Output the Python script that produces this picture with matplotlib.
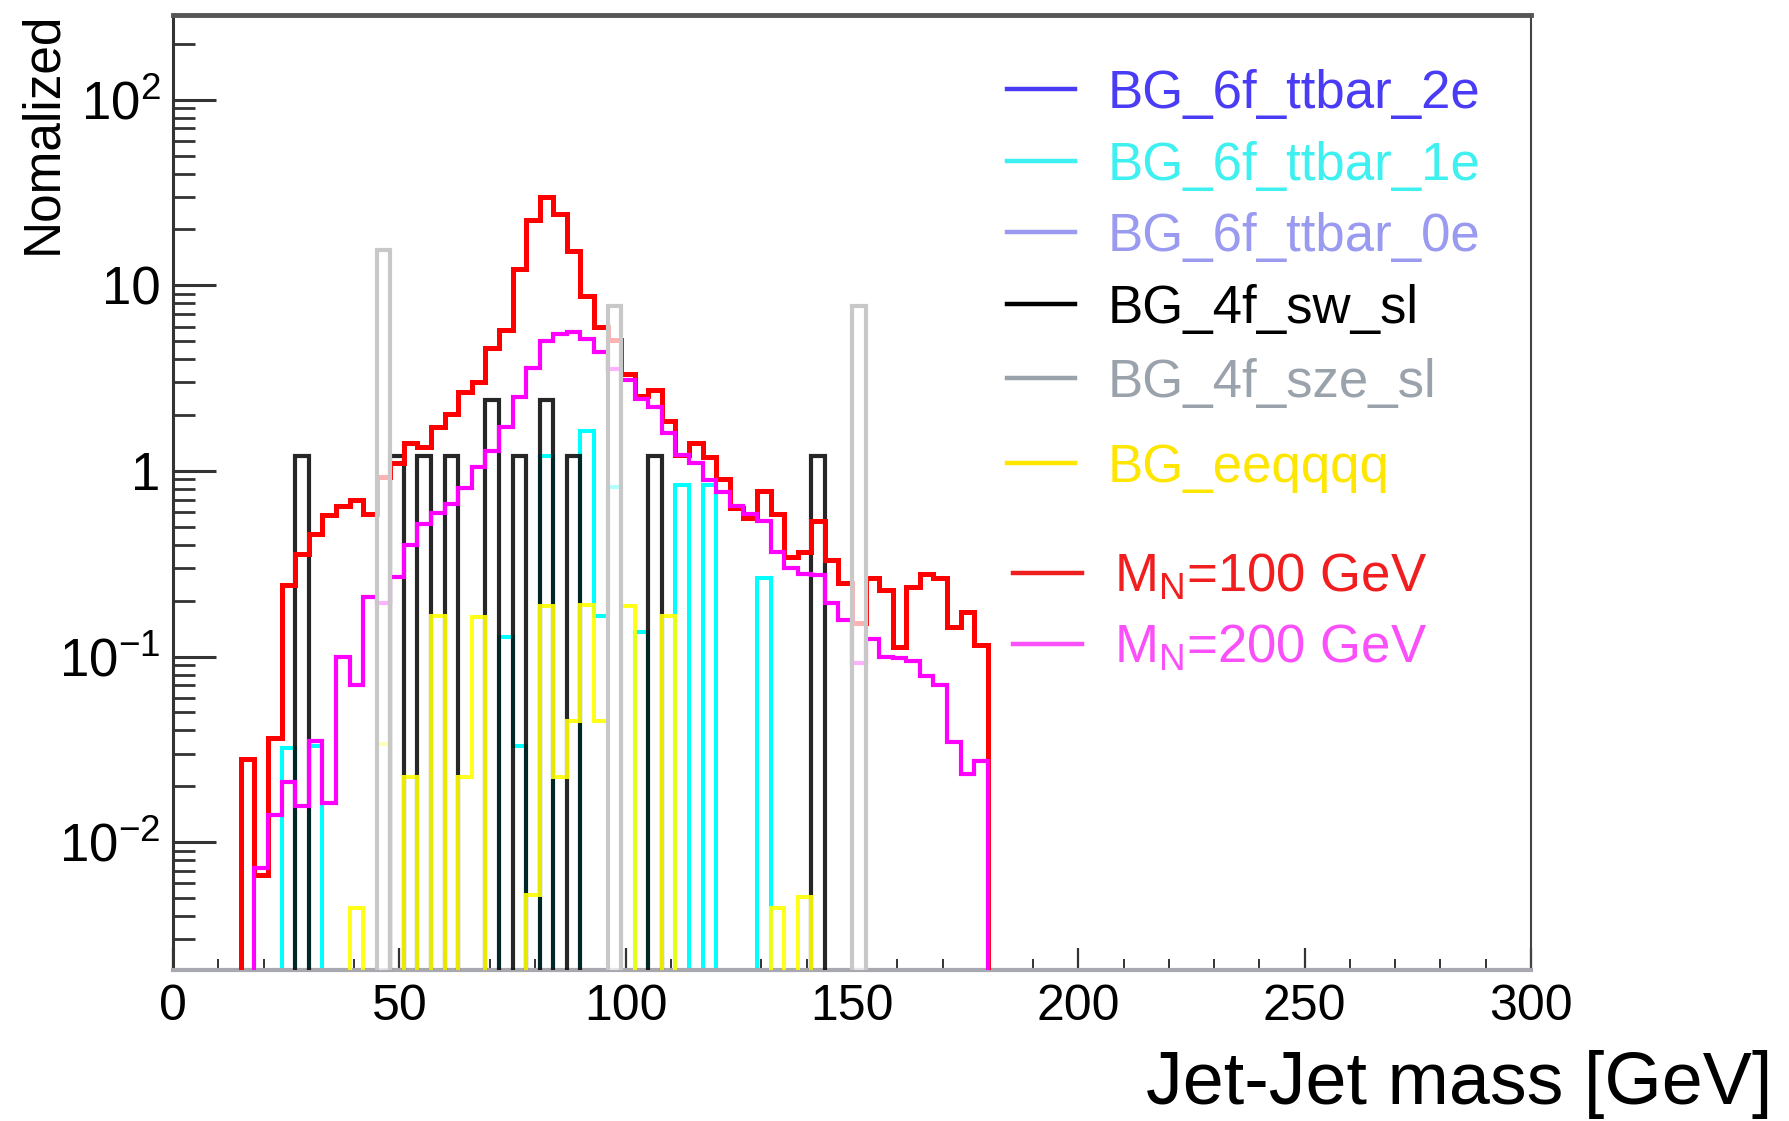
import numpy as np
import matplotlib.pyplot as plt
from matplotlib.lines import Line2D
from matplotlib.ticker import FixedLocator, FixedFormatter, LogLocator, NullFormatter, MultipleLocator

plt.rcParams['font.family'] = ['Liberation Sans', 'DejaVu Sans']
plt.rcParams['mathtext.fontset'] = 'custom'
plt.rcParams['mathtext.rm'] = 'Liberation Sans'
plt.rcParams['mathtext.it'] = 'Liberation Sans:italic'
plt.rcParams['mathtext.bf'] = 'Liberation Sans:bold'

# 100 bins of 3 GeV between 0 and 300 GeV
bin_width = 3
n_bins = 100

# signal samples: contents of consecutive bins, starting at the given lower edge (GeV)
mn100_start = 15
mn100 = [0.028, 0.0067, 0.0366, 0.244, 0.355, 0.46, 0.58, 0.65, 0.70, 0.59,
         0.93, 1.1, 1.42, 1.35, 1.72, 2.04, 2.67, 3.0, 4.6, 5.73,
         12.3, 22.4, 29.9, 24.1, 15.4, 8.8, 5.97, 5.06, 3.35, 2.55,
         2.72, 1.86, 1.22, 1.41, 1.19, 0.90, 0.63, 0.555, 0.78, 0.59,
         0.345, 0.365, 0.535, 0.333, 0.25, 0.152, 0.265, 0.228, 0.113, 0.238,
         0.28, 0.264, 0.145, 0.173, 0.115]
mn200_start = 18
mn200 = [0.0073, 0.014, 0.021, 0.0157, 0.035, 0.0162, 0.099, 0.070, 0.21,
         0.195, 0.27, 0.40, 0.515, 0.595, 0.66, 0.81, 1.05, 1.28, 1.72,
         2.5, 3.58, 5.0, 5.5, 5.63, 5.17, 4.4, 3.56, 3.08, 2.43,
         2.22, 1.6, 1.22, 1.1, 0.895, 0.774, 0.645, 0.59, 0.54, 0.367,
         0.30, 0.28, 0.275, 0.194, 0.158, 0.0925, 0.125, 0.10, 0.098, 0.095,
         0.079, 0.0705, 0.0345, 0.0232, 0.0273]

# background samples: lower bin edge (GeV) of each filled bin and its content
ttbar1e_mass = [24, 30, 72, 75, 81, 90, 93, 96, 102, 111, 117, 129]
ttbar1e_val = [0.032, 0.033, 0.128, 0.033, 1.2, 1.65, 0.166, 0.82, 0.135, 0.84, 0.84, 0.265]
swsl_mass = [27, 48, 54, 60, 69, 75, 81, 87, 105, 141]
swsl_val = [1.2, 1.2, 1.2, 1.2, 2.4, 1.2, 2.4, 1.2, 1.2, 1.2]
szesl_mass = [45, 96, 150]
szesl_val = [15.5, 7.7, 7.7]
eeqqqq_mass = [39, 45, 51, 57, 63, 66, 78, 81, 84, 87, 90, 93, 99, 108, 132, 138]
eeqqqq_val = [0.0044, 0.034, 0.0225, 0.166, 0.0225, 0.163, 0.0052, 0.188, 0.0225,
              0.045, 0.19, 0.045, 0.188, 0.166, 0.0044, 0.0051]

x_ticks = [0, 50, 100, 150, 200, 250, 300]
x_tick_labels = ['0', '50', '100', '150', '200', '250', '300']
y_ticks = [1e-2, 1e-1, 1, 10, 100]
y_tick_labels = [r'$10^{-2}$', r'$10^{-1}$', '1', '10', r'$10^{2}$']

legend_labels = ['BG_6f_ttbar_2e', 'BG_6f_ttbar_1e', 'BG_6f_ttbar_0e', 'BG_4f_sw_sl',
                 'BG_4f_sze_sl', 'BG_eeqqqq', r'M$_{\rm N}$=100 GeV', r'M$_{\rm N}$=200 GeV']
legend_colors = ['#4a3cf5', '#3ef0f0', '#9a9af0', '#000000',
                 '#9aa2ab', '#ffe600', '#f01e1e', '#fa50fa']

W, H = 1790, 1121
floor = 1e-6
edges = np.arange(n_bins + 1) * bin_width


def from_start(start, vals):
    h = np.zeros(n_bins)
    i = int(round(start / bin_width))
    h[i:i + len(vals)] = vals
    return h


def from_bins(mass, vals):
    h = np.zeros(n_bins)
    for m, v in zip(mass, vals):
        h[int(round(m / bin_width))] = v
    return h


def draw(h, **kw):
    ax.stairs(np.where(h > 0, h, floor), edges, baseline=floor, **kw)


fig = plt.figure(figsize=(W / 100, H / 100), dpi=100)
ax = fig.add_axes([173 / W, 1 - 970 / H, (1531 - 173) / W, (970 - 15) / H])

draw(from_bins(ttbar1e_mass, ttbar1e_val), color='#00ffff', lw=2.9, zorder=2)
draw(from_bins(swsl_mass, swsl_val), color='black', lw=3.0, alpha=0.85, zorder=3)
draw(from_bins(eeqqqq_mass, eeqqqq_val), color='#ffff00', lw=2.9, alpha=0.9, zorder=4)
draw(from_start(mn100_start, mn100), color='#ff0000', lw=3.6, zorder=5)
draw(from_start(mn200_start, mn200), color='#ff00ff', lw=3.0, zorder=6)
draw(from_bins(szesl_mass, szesl_val), fill=True, facecolor=(1, 1, 1, 0.7),
     edgecolor='#c8c8c8', lw=3.0, zorder=7)

ax.set_xlim(0, 300)
ax.set_yscale('log')
ax.set_ylim(2.05e-3, 286)

ax.xaxis.set_major_locator(FixedLocator(x_ticks))
ax.xaxis.set_major_formatter(FixedFormatter(x_tick_labels))
ax.xaxis.set_minor_locator(MultipleLocator(10))
ax.yaxis.set_major_locator(FixedLocator(y_ticks))
ax.yaxis.set_major_formatter(FixedFormatter(y_tick_labels))
ax.yaxis.set_minor_locator(LogLocator(base=10, subs=np.arange(2, 10), numticks=20))
ax.yaxis.set_minor_formatter(NullFormatter())

ax.tick_params(axis='y', which='major', direction='in', length=31, width=2.2,
               color='#333333', labelsize=38, pad=9)
ax.tick_params(axis='y', which='minor', direction='in', length=16, width=2.0, color='#333333')
ax.tick_params(axis='x', which='major', direction='in', length=16, width=1.6,
               color='#333333', labelsize=36, pad=10)
ax.tick_params(axis='x', which='minor', direction='in', length=8, width=1.4, color='#333333')

ax.spines['left'].set_color('#333333')
ax.spines['left'].set_linewidth(2.2)
ax.spines['top'].set_color('#555555')
ax.spines['top'].set_linewidth(3.5)
ax.spines['right'].set_color('#444444')
ax.spines['right'].set_linewidth(1.5)
ax.spines['bottom'].set_color('#a8a8b0')
ax.spines['bottom'].set_linewidth(3.0)

# legend drawn entry by entry, like the ROOT TLegend
entry_y = [89, 161, 232, 304, 378, 463, 573, 644]
for i, (lab, col) in enumerate(zip(legend_labels, legend_colors)):
    y = entry_y[i]
    x0, x1, xt = (1007, 1075, 1108) if i < 6 else (1013, 1082, 1114)
    fig.add_artist(Line2D([x0 / W, x1 / W], [1 - y / H, 1 - y / H], color=col, lw=3.2,
                          transform=fig.transFigure))
    fig.text(xt / W, 1 - (y + 19) / H, lab, color=col, fontsize=38, ha='left', va='baseline')

fig.text(43 / W, 1 - 11 / H, 'Nomalized', rotation=90, fontsize=37, ha='center', va='top')
fig.text(1772 / W, 1 - 1104 / H, 'Jet-Jet mass [GeV]', fontsize=53, ha='right', va='baseline')

fig.savefig('out.png', dpi=100, facecolor='white')
